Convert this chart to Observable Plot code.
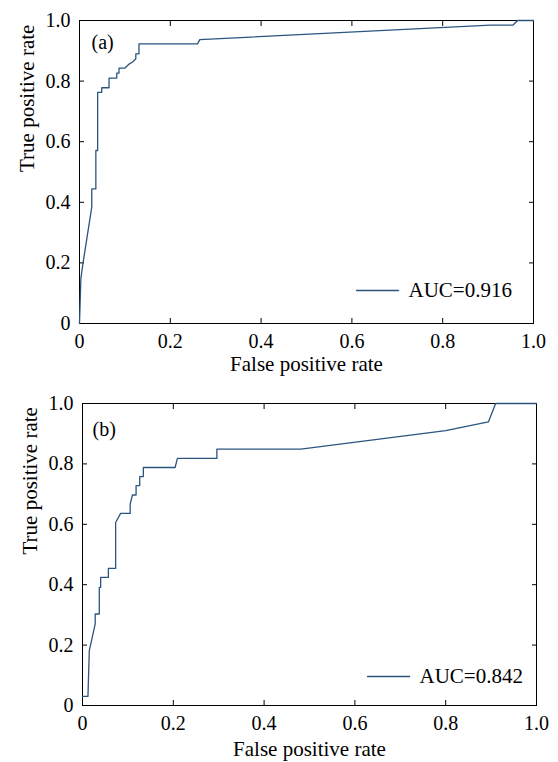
<!DOCTYPE html>
<html>
<head>
<meta charset="utf-8">
<script src="https://cdn.jsdelivr.net/npm/d3@7"></script>
<script src="https://cdn.jsdelivr.net/npm/@observablehq/plot@0.6"></script>
<style>
  html, body { margin: 0; padding: 0; background: #fff; }
  #chart svg { display: block; }
  #chart svg text { font-family: "Liberation Serif", "Times New Roman", serif; }
</style>
</head>
<body>
<div id="chart"></div>
<script>
// Panel (a) ROC curve
const fprA = [0, 0.003, 0.008, 0.027, 0.027, 0.036, 0.036, 0.040, 0.040, 0.049, 0.049, 0.065, 0.065, 0.082, 0.082, 0.087, 0.087, 0.100, 0.110, 0.117, 0.124, 0.124, 0.131, 0.131, 0.260, 0.265, 0.905, 0.955, 0.965, 1.0];
const tprA = [0, 0.148, 0.202, 0.384, 0.444, 0.444, 0.571, 0.571, 0.763, 0.763, 0.778, 0.778, 0.810, 0.810, 0.826, 0.826, 0.843, 0.843, 0.857, 0.863, 0.874, 0.890, 0.890, 0.923, 0.923, 0.937, 0.985, 0.985, 1.0, 1.0];
// Panel (b) ROC curve
const fprB = [0, 0.012, 0.015, 0.028, 0.028, 0.037, 0.037, 0.040, 0.040, 0.057, 0.057, 0.073, 0.073, 0.084, 0.105, 0.105, 0.110, 0.118, 0.118, 0.126, 0.126, 0.134, 0.134, 0.204, 0.209, 0.296, 0.296, 0.481, 0.800, 0.894, 0.910, 1.0];
const tprB = [0.030, 0.030, 0.182, 0.270, 0.303, 0.303, 0.391, 0.391, 0.424, 0.424, 0.454, 0.454, 0.606, 0.636, 0.636, 0.667, 0.697, 0.697, 0.728, 0.728, 0.758, 0.758, 0.788, 0.788, 0.818, 0.818, 0.849, 0.849, 0.910, 0.939, 1.0, 1.0];

const panelTags = ["(a)", "(b)"];
const aucLabels = ["AUC=0.916", "AUC=0.842"];
const tickValues = [0, 0.2, 0.4, 0.6, 0.8, 1.0];
const xLabel = "False positive rate";
const yLabel = "True positive rate";

const lineColor = "#2b557f";
const font = "Liberation Serif";
const fmt = d => d === 0 ? "0" : d.toFixed(1);

function makePanel(fpr, tpr, tag, auc, m) {
  const data = fpr.map((x, i) => ({x, y: tpr[i]}));
  const legendLine = {draw(ctx, l) { ctx.moveTo(0, 0); ctx.lineTo(0, -l); }};
  const T = {fontFamily: font, fill: "#000"};
  return Plot.plot({
    width: 558,
    height: m.height,
    marginTop: m.top,
    marginBottom: m.bottom,
    marginLeft: m.left,
    marginRight: m.right,
    style: {fontFamily: font, fontSize: "20px", color: "#000", background: "#fff"},
    x: {domain: [0, 1], ticks: tickValues, tickFormat: fmt},
    y: {domain: [0, 1], ticks: tickValues, tickFormat: fmt},
    marks: [
      // inward ticks on all four sides
      Plot.axisX(tickValues, {anchor: "bottom", tickSize: -5, fill: "none", label: null, stroke: "#000"}),
      Plot.axisX(tickValues, {anchor: "top", tickSize: -5, fill: "none", label: null, stroke: "#000"}),
      Plot.axisY(tickValues, {anchor: "left", tickSize: -5, fill: "none", label: null, stroke: "#000"}),
      Plot.axisY(tickValues, {anchor: "right", tickSize: -5, fill: "none", label: null, stroke: "#000"}),
      // tick labels
      Plot.axisX(tickValues, {anchor: "bottom", tickSize: 0, tickPadding: 10, tickFormat: fmt, label: null, fontSize: 20, ...T}),
      Plot.axisY(tickValues, {anchor: "left", tickSize: 0, tickPadding: 9, tickFormat: fmt, label: null, fontSize: 20, ...T}),
      Plot.frame({stroke: "#000", strokeWidth: 1}),
      Plot.line(data, {x: "x", y: "y", stroke: lineColor, strokeWidth: 1.3}),
      // axis titles
      Plot.text([xLabel], {frameAnchor: "bottom", dy: m.xLabDy, text: d => d, fontSize: 21, ...T}),
      Plot.text([yLabel], {frameAnchor: "left", dx: -52, rotate: -90, text: d => d, fontSize: 21, ...T}),
      // panel tag
      Plot.text([tag], {frameAnchor: "top-left", dx: m.tagDx, dy: m.tagDy, text: d => d, textAnchor: "start", lineAnchor: "middle", fontSize: 20, ...T}),
      // legend
      Plot.vector([auc], {frameAnchor: "bottom-right", dx: m.legDx, dy: m.legDy, rotate: 90, length: 42, anchor: "start", shape: legendLine, stroke: lineColor, strokeWidth: 1.3}),
      Plot.text([auc], {frameAnchor: "bottom-right", dx: m.legDx + 52, dy: m.legDy, text: d => d, textAnchor: "start", lineAnchor: "middle", fontSize: 21, ...T})
    ]
  });
}

const chart = document.getElementById("chart");
chart.append(makePanel(fprA, tprA, panelTags[0], aucLabels[0], {height: 380, top: 20, bottom: 57, left: 79, right: 25, tagDx: 12, tagDy: 22, legDx: -177, legDy: -33, xLabDy: 47}));
chart.append(makePanel(fprB, tprB, panelTags[1], aucLabels[1], {height: 382, top: 23, bottom: 57, left: 82, right: 22, tagDx: 10, tagDy: 26, legDx: -169, legDy: -29, xLabDy: 50}));
</script>
</body>
</html>
